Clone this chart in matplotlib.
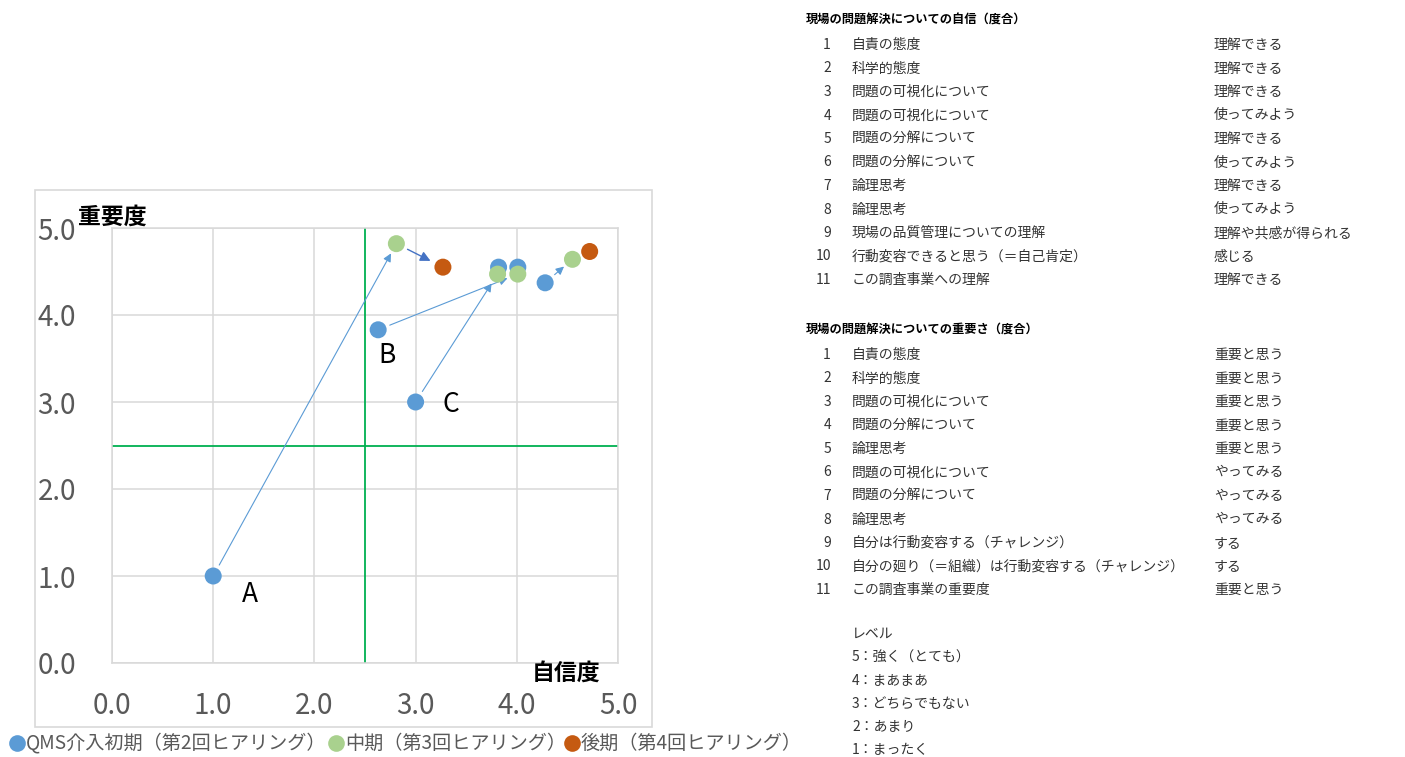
import matplotlib
matplotlib.use("Agg")
import matplotlib.pyplot as plt
from matplotlib.patches import Rectangle
from matplotlib.lines import Line2D

plt.rcParams["font.family"] = ["Noto Sans CJK JP", "DejaVu Sans"]

# (自信度, 重要度) per hearing round
EARLY_X = [1.0, 2.63, 3.0, 3.82, 4.01, 4.28]
EARLY_Y = [1.0, 3.83, 3.0, 4.55, 4.55, 4.37]
MID_X = [2.81, 3.81, 4.01, 4.55]
MID_Y = [4.82, 4.47, 4.47, 4.64]
LATE_X = [3.27, 4.72]
LATE_Y = [4.55, 4.73]

SERIES_LABELS = ["QMS介入初期（第2回ヒアリング）", "中期（第3回ヒアリング）", "後期（第4回ヒアリング）"]
COLORS = ["#5b9bd5", "#a9d18e", "#c55a11"]

# arrows: (from point, to point)
MOVES = [((1.0, 1.0), (2.81, 4.82)),
         ((2.63, 3.83), (4.01, 4.47)),
         ((3.0, 3.0), (3.81, 4.47)),
         ((4.28, 4.37), (4.55, 4.64))]
MOVE_DOWN = ((2.81, 4.82), (3.27, 4.55))

POINT_TAGS = ["A", "B", "C"]
TAG_POS = [(1.36, 0.79), (2.72, 3.53), (3.35, 2.97)]
THRESHOLD = 2.5

CONF_TITLE = "現場の問題解決についての自信（度合）"
CONF_ITEMS = ["自責の態度", "科学的態度", "問題の可視化について", "問題の可視化について",
              "問題の分解について", "問題の分解について", "論理思考", "論理思考",
              "現場の品質管理についての理解", "行動変容できると思う（＝自己肯定）", "この調査事業への理解"]
CONF_LEVEL = ["理解できる", "理解できる", "理解できる", "使ってみよう", "理解できる",
              "使ってみよう", "理解できる", "使ってみよう", "理解や共感が得られる",
              "感じる", "理解できる"]
IMP_TITLE = "現場の問題解決についての重要さ（度合）"
IMP_ITEMS = ["自責の態度", "科学的態度", "問題の可視化について", "問題の分解について",
             "論理思考", "問題の可視化について", "問題の分解について", "論理思考",
             "自分は行動変容する（チャレンジ）", "自分の廻り（＝組織）は行動変容する（チャレンジ）",
             "この調査事業の重要度"]
IMP_LEVEL = ["重要と思う", "重要と思う", "重要と思う", "重要と思う", "重要と思う",
             "やってみる", "やってみる", "やってみる", "する", "する", "重要と思う"]
SCALE_NOTE = ["レベル", "5：強く（とても）", "4：まあまあ", "3：どちらでもない", "2：あまり", "1：まったく"]

W, H = 1405, 757
fig = plt.figure(figsize=(W / 100, H / 100), dpi=100)


def fx(px):
    return px / W


def fy(py):
    return 1 - py / H


# chart frame
fig.add_artist(Rectangle((fx(35), fy(727)), fx(652) - fx(35), fy(190) - fy(727),
                         transform=fig.transFigure, fill=False, edgecolor="#d9d9d9", lw=1.2))

ax = fig.add_axes([fx(112), fy(663), fx(618) - fx(112), fy(228) - fy(663)])
ax.set_xlim(0, 5)
ax.set_ylim(0, 5)
ticks = [0, 1, 2, 3, 4, 5]
ax.set_xticks(ticks)
ax.set_yticks(ticks)
ax.set_xticklabels([f"{t:.1f}" for t in ticks])
ax.set_yticklabels([f"{t:.1f}" for t in ticks])
ax.tick_params(length=0, labelsize=20, labelcolor="#595959")
ax.tick_params(axis="y", pad=26)
ax.tick_params(axis="x", pad=20)
ax.grid(True, color="#d9d9d9", lw=1.1)
ax.set_axisbelow(True)
for s in ax.spines.values():
    s.set_color("#d9d9d9")
    s.set_linewidth(1.1)

ax.axvline(THRESHOLD, color="#00b050", lw=1.3, zorder=1.5)
ax.axhline(THRESHOLD, color="#00b050", lw=1.3, zorder=1.5)

for (x0, y0), (x1, y1) in MOVES:
    ax.annotate("", xy=(x1, y1), xytext=(x0, y0),
                arrowprops=dict(arrowstyle="-|>", color="#5b9bd5", lw=0.8,
                                mutation_scale=12, shrinkA=9, shrinkB=8), zorder=2)
(x0, y0), (x1, y1) = MOVE_DOWN
ax.annotate("", xy=(x1, y1), xytext=(x0, y0),
            arrowprops=dict(arrowstyle="-|>", color="#4472c4", lw=1.0,
                            mutation_scale=15, shrinkA=9, shrinkB=10), zorder=2)

for xs, ys, c in zip([EARLY_X, MID_X, LATE_X], [EARLY_Y, MID_Y, LATE_Y], COLORS):
    ax.scatter(xs, ys, s=150, color=c, edgecolors="none", zorder=3, clip_on=False)

for tag, (tx, ty) in zip(POINT_TAGS, TAG_POS):
    ax.text(tx, ty, tag, fontsize=19, ha="center", va="center", color="black")

fig.text(fx(78), fy(217), "重要度", fontsize=16.5, fontweight="bold", ha="left", va="center")
fig.text(fx(532), fy(673), "自信度", fontsize=16.5, fontweight="bold", ha="left", va="center")

# legend row under the chart frame
legend_x = [17, 336, 572]
for lx, lab, c in zip(legend_x, SERIES_LABELS, COLORS):
    fig.add_artist(Line2D([fx(lx)], [fy(743)], ls="none", marker="o", markersize=12,
                          color=c, markeredgewidth=0, transform=fig.transFigure))
    fig.text(fx(lx + 9), fy(743), lab, fontsize=13.8, color="#595959", ha="left", va="center")


# item lists on the right
def item_block(title, items, levels, top):
    fig.text(fx(806), fy(top), title, fontsize=8.8, fontweight="bold", ha="left", va="center")
    y = top + 25
    for i, (item, lev) in enumerate(zip(items, levels), 1):
        fig.text(fx(831), fy(y), str(i), fontsize=10, ha="right", va="center", color="#333333")
        fig.text(fx(852), fy(y), item, fontsize=10, ha="left", va="center", color="#333333")
        fig.text(fx(1214), fy(y), lev, fontsize=10, ha="left", va="center", color="#333333")
        y += 23.5


item_block(CONF_TITLE, CONF_ITEMS, CONF_LEVEL, 20)
item_block(IMP_TITLE, IMP_ITEMS, IMP_LEVEL, 330)

for i, line in enumerate(SCALE_NOTE):
    fig.text(fx(852), fy(634 + i * 23.2), line, fontsize=10, ha="left", va="center", color="#333333")

fig.savefig("out.png", dpi=100, facecolor="white")
